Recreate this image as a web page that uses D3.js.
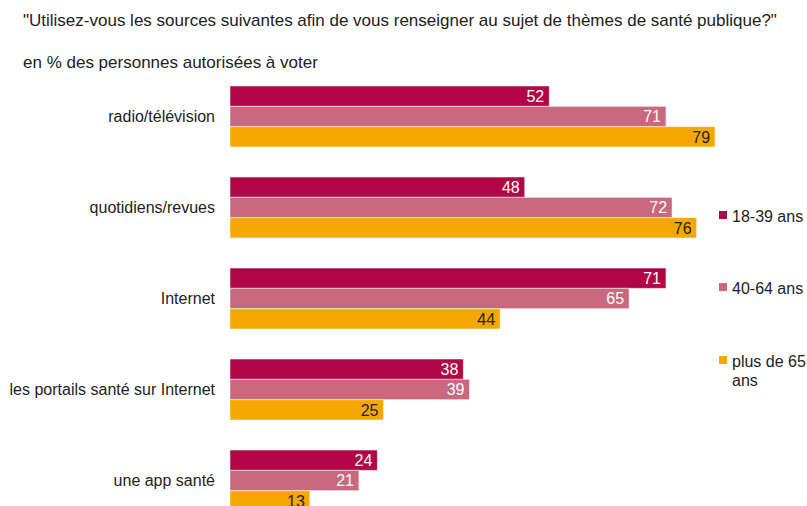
<!DOCTYPE html>
<html>
<head>
<meta charset="utf-8">
<script src="https://cdn.jsdelivr.net/npm/d3@7"></script>
<style>
  body { margin: 0; background: #fff; }
  svg { font-family: "Liberation Sans", Arial, sans-serif; }
</style>
</head>
<body>
<svg width="807" height="506"></svg>
<script>
var categories = ["radio/télévision", "quotidiens/revues", "Internet", "les portails santé sur Internet", "une app santé"];
var seriesNames = ["18-39 ans", "40-64 ans", "plus de 65 ans"];
var young = [52, 48, 71, 38, 24];
var middle = [71, 72, 65, 39, 21];
var senior = [79, 76, 44, 25, 13];
var colors = ["#b00645", "#c9687e", "#f6a800"];
var labelColors = ["#fff", "#fff", "#222"];

var series = [young, middle, senior];
var svg = d3.select("svg");

// title + subtitle
svg.append("text").attr("x", 23).attr("y", 26)
  .attr("font-size", 17).attr("fill", "#222")
  .text("\"Utilisez-vous les sources suivantes afin de vous renseigner au sujet de thèmes de santé publique?\"");
svg.append("text").attr("x", 23).attr("y", 68)
  .attr("font-size", 17).attr("fill", "#222")
  .text("en % des personnes autorisées à voter");

var x = d3.scaleLinear().domain([0, 100]).range([230, 844]);
var y0 = d3.scaleBand().domain(categories).range([86, 511]).paddingInner(0.33).paddingOuter(0);
var y1 = d3.scaleBand().domain(d3.range(3)).range([0, y0.bandwidth()]);

var groups = svg.selectAll("g.cat")
  .data(categories)
  .enter().append("g")
  .attr("class", "cat")
  .attr("transform", function(d) { return "translate(0," + y0(d) + ")"; });

groups.append("text")
  .attr("x", 215)
  .attr("y", y0.bandwidth() / 2)
  .attr("dy", "0.35em")
  .attr("text-anchor", "end")
  .attr("font-size", 16)
  .attr("fill", "#222")
  .text(function(d) { return d; });

groups.each(function(cat, ci) {
  var g = d3.select(this);
  series.forEach(function(vals, si) {
    g.append("rect")
      .attr("x", x(0))
      .attr("y", y1(si))
      .attr("width", x(vals[ci]) - x(0))
      .attr("height", y1.bandwidth())
      .attr("fill", colors[si])
      .attr("stroke", "#fff")
      .attr("stroke-opacity", 0.5)
      .attr("stroke-width", 1);
    g.append("text")
      .attr("x", x(vals[ci]) - 5)
      .attr("y", y1(si) + y1.bandwidth() / 2)
      .attr("dy", "0.36em")
      .attr("text-anchor", "end")
      .attr("font-size", 16)
      .attr("fill", labelColors[si])
      .text(vals[ci]);
  });
});

// legend
var legendY = [216, 288, 361];
var legend = svg.selectAll("g.leg")
  .data(seriesNames)
  .enter().append("g")
  .attr("class", "leg")
  .attr("transform", function(d, i) { return "translate(719," + legendY[i] + ")"; });

legend.append("rect")
  .attr("x", 0).attr("y", -5)
  .attr("width", 8).attr("height", 8)
  .attr("fill", function(d, i) { return colors[i]; });

legend.append("text")
  .attr("x", 13).attr("y", 0)
  .attr("dy", "0.35em")
  .attr("font-size", 16)
  .attr("fill", "#222")
  .each(function(d) {
    var t = d3.select(this);
    if (d === "plus de 65 ans") {
      t.append("tspan").attr("x", 13).text("plus de 65");
      t.append("tspan").attr("x", 13).attr("dy", "1.2em").text("ans");
    } else {
      t.text(d);
    }
  });
</script>
</body>
</html>
